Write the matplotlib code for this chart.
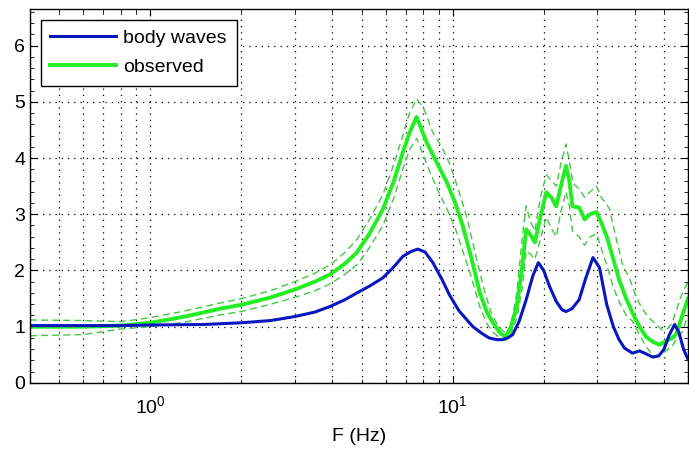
import numpy as np
import matplotlib
matplotlib.use("Agg")
import matplotlib.pyplot as plt
from matplotlib.ticker import LogLocator, MultipleLocator, NullFormatter

plt.rcParams['font.family'] = ['Liberation Sans', 'DejaVu Sans']
plt.rcParams['mathtext.fontset'] = 'custom'
plt.rcParams['mathtext.rm'] = 'Liberation Sans'

# body waves (theoretical transfer function)
f_body = [0.40, 0.6, 0.8, 1.0, 1.5, 2.0, 2.5, 3.0, 3.5, 3.93, 4.4, 4.82, 5.3, 5.88,
          6.4, 6.84, 7.3, 7.66, 8.1, 8.6, 9.2, 9.77, 10.5, 11.67, 12.5, 13.2, 14.0,
          14.6, 15.2, 15.8, 16.6, 17.5, 18.4, 19.2, 20.0, 20.9, 22.0, 23.0, 23.7,
          24.8, 26.2, 27.5, 29.1, 30.6, 32.3, 34.0, 35.5, 37.0, 39.3, 41.5, 43.5,
          45.9, 48.0, 50.0, 52.0, 54.2, 56.0, 58.0, 60.0]
v_body = [1.02, 1.02, 1.02, 1.03, 1.04, 1.07, 1.11, 1.18, 1.26, 1.36, 1.48, 1.60, 1.72,
          1.87, 2.07, 2.25, 2.34, 2.38, 2.33, 2.14, 1.85, 1.56, 1.28, 1.00, 0.88, 0.80,
          0.77, 0.77, 0.80, 0.86, 1.10, 1.48, 1.90, 2.14, 2.00, 1.72, 1.45, 1.30, 1.27,
          1.32, 1.48, 1.85, 2.23, 2.05, 1.40, 1.00, 0.77, 0.62, 0.53, 0.57, 0.52, 0.46,
          0.48, 0.60, 0.85, 1.04, 0.90, 0.60, 0.42]

# observed mean
f_obs = [0.40, 0.6, 0.8, 1.0, 1.3, 1.7, 2.0, 2.5, 3.0, 3.5, 3.93, 4.4, 4.82, 5.3, 5.88,
         6.4, 6.84, 7.2, 7.6, 8.2, 8.8, 9.56, 10.2, 10.8, 11.5, 12.3, 13.0, 13.6, 14.3,
         14.9, 15.5, 16.3, 17.0, 17.5, 18.0, 18.7, 19.5, 20.4, 21.2, 22.0, 22.8, 23.7,
         24.3, 24.9, 26.2, 27.3, 28.5, 29.9, 31.0, 32.3, 34.0, 35.5, 37.5, 39.3, 41.5,
         43.6, 46.0, 48.3, 51.0, 53.3, 55.0, 57.3, 60.0]
v_obs = [1.00, 1.00, 1.02, 1.07, 1.18, 1.32, 1.39, 1.52, 1.66, 1.80, 1.93, 2.12, 2.32,
         2.65, 3.09, 3.60, 4.10, 4.45, 4.73, 4.28, 3.95, 3.57, 3.20, 2.79, 2.25, 1.60,
         1.25, 1.07, 0.90, 0.82, 0.95, 1.36, 2.10, 2.73, 2.65, 2.50, 2.95, 3.39, 3.30,
         3.14, 3.50, 3.86, 3.60, 3.14, 3.12, 2.91, 3.00, 3.04, 2.85, 2.61, 2.20, 1.84,
         1.50, 1.25, 1.00, 0.82, 0.73, 0.68, 0.75, 0.80, 0.88, 1.18, 1.50]

# observed upper bound
f_up = [0.40, 0.6, 0.8, 1.0, 1.3, 1.7, 2.0, 2.5, 3.0, 3.5, 3.93, 4.4, 4.82, 5.3, 5.88,
        6.4, 6.84, 7.2, 7.6, 8.0, 8.6, 9.2, 9.77, 10.5, 11.2, 12.0, 12.8, 13.5, 14.3,
        15.0, 15.6, 16.3, 17.0, 17.5, 18.0, 18.7, 19.5, 20.4, 21.2, 22.0, 22.8, 23.7,
        24.3, 25.0, 26.2, 27.3, 28.5, 29.9, 31.0, 33.0, 34.8, 36.5, 38.5, 40.0, 42.0,
        44.7, 47.0, 49.0, 51.0, 53.0, 55.0, 57.0, 60.0]
v_up = [1.12, 1.11, 1.09, 1.16, 1.28, 1.42, 1.50, 1.64, 1.80, 1.95, 2.10, 2.32, 2.55,
        2.90, 3.35, 3.90, 4.40, 4.80, 5.05, 4.90, 4.45, 4.20, 3.90, 3.40, 2.90, 2.20,
        1.60, 1.20, 0.98, 0.88, 1.05, 1.60, 2.60, 3.15, 2.90, 2.70, 3.30, 3.70, 3.60,
        3.50, 3.90, 4.25, 3.95, 3.55, 3.45, 3.30, 3.40, 3.50, 3.30, 3.10, 2.55, 2.10,
        1.85, 1.60, 1.35, 1.15, 1.05, 0.95, 0.95, 1.05, 1.30, 1.55, 1.80]

# observed lower bound
f_lo = [0.40, 0.6, 0.8, 1.0, 1.3, 1.7, 2.0, 2.5, 3.0, 3.5, 3.93, 4.4, 4.82, 5.3, 5.88,
        6.4, 6.84, 7.2, 7.6, 8.2, 8.8, 9.56, 10.2, 10.8, 11.5, 12.3, 13.0, 13.6, 14.3,
        14.9, 15.5, 16.3, 17.0, 17.5, 18.0, 18.7, 19.5, 20.4, 21.2, 22.0, 22.8, 23.7,
        24.3, 24.9, 26.2, 27.3, 28.5, 29.9, 31.0, 32.3, 34.0, 35.5, 37.5, 39.3, 41.5,
        43.6, 46.0, 48.3, 51.0, 53.3, 55.0, 57.3, 60.0]
v_lo = [0.84, 0.86, 0.96, 1.00, 1.08, 1.21, 1.27, 1.40, 1.52, 1.64, 1.76, 1.93, 2.10,
        2.40, 2.80, 3.30, 3.80, 4.15, 4.35, 3.90, 3.50, 3.10, 2.75, 2.35, 1.90, 1.35,
        1.05, 0.90, 0.80, 0.76, 0.85, 1.15, 1.70, 2.35, 2.30, 2.20, 2.55, 2.95, 2.75,
        2.60, 3.05, 3.40, 3.15, 2.70, 2.60, 2.45, 2.60, 2.65, 2.40, 2.10, 1.70, 1.45,
        1.20, 1.10, 0.85, 0.65, 0.48, 0.50, 0.58, 0.66, 0.78, 0.90, 1.20]

blue = '#0a16c0'
green = '#22ee22'
green_d = '#44c844'

fig = plt.figure(figsize=(6.89, 4.5), dpi=100)
ax = fig.add_axes([0.0435, 0.149, 0.955, 0.831])

ax.plot(f_up, v_up, color=green_d, lw=1, dashes=(5, 3))
ax.plot(f_lo, v_lo, color=green_d, lw=1, dashes=(5, 3))
l2, = ax.plot(f_obs, v_obs, color=green, lw=2.8, label='observed')
l1, = ax.plot(f_body, v_body, color=blue, lw=2.2, label='body waves')

ax.set_xscale('log')
ax.set_xlim(0.4, 60)
ax.set_ylim(0, 6.65)
ax.xaxis.set_major_locator(LogLocator(base=10, numticks=10))
ax.xaxis.set_minor_locator(LogLocator(base=10, subs=np.arange(2, 10), numticks=10))
ax.xaxis.set_minor_formatter(NullFormatter())
ax.yaxis.set_major_locator(MultipleLocator(1))
ax.yaxis.set_minor_locator(MultipleLocator(0.2))

gridkw = dict(color='black', linestyle=(0, (1, 4)), linewidth=0.9)
ax.grid(True, which='major', axis='both', **gridkw)
ax.grid(True, which='minor', axis='x', **gridkw)

ax.tick_params(which='both', direction='in', top=True, right=True, labelsize=14,
               color='black')
ax.tick_params(which='major', length=5)
ax.tick_params(which='minor', length=3)
ax.tick_params(axis='x', which='major', pad=9)
for s in ax.spines.values():
    s.set_linewidth(1.0)

ax.set_xlabel('F (Hz)', fontsize=14, labelpad=8)

leg = ax.legend([l1, l2], ['body waves', 'observed'], loc='upper left',
                fontsize=14, frameon=True, fancybox=False, handlelength=3.4,
                borderaxespad=0.55, borderpad=0.5, labelspacing=0.6, handletextpad=0.35)
leg.get_frame().set_edgecolor('black')
leg.get_frame().set_linewidth(1.0)
leg.get_frame().set_alpha(1)

fig.savefig('out.png', dpi=100)
